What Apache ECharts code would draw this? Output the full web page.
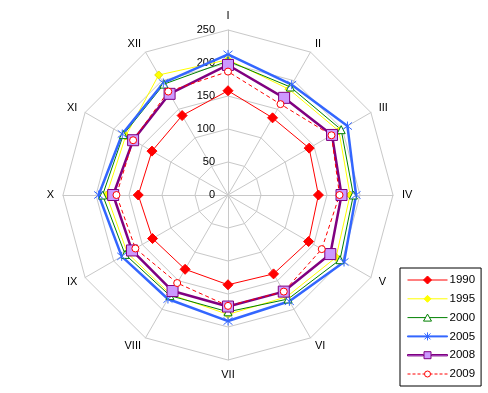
<!DOCTYPE html>
<html>
<head>
<meta charset="utf-8">
<script src="https://cdn.jsdelivr.net/npm/echarts@6/dist/echarts.min.js"></script>
<style>
html,body{margin:0;padding:0;background:#fff;}
#chart{width:488px;height:393px;}
</style>
</head>
<body>
<div id="chart"></div>
<script>
// Axes (months as Roman numerals), listed clockwise from the top
var categories = ['I','II','III','IV','V','VI','VII','VIII','IX','X','XI','XII'];
var tickLabels = ['0','50','100','150','200','250'];
var seriesNames = ['1990','1995','2000','2005','2008','2009'];
var v1990 = [158,135,142,137,141,138,136,130,132,136,133,139];
var v1995 = [205,185,194,185,189,178,181,174,176,184,179,210];
var v2000 = [203,189,198,190,196,182,177,176,180,190,183,194];
var v2005 = [213,193,209,194,203,186,191,182,186,196,185,196];
var v2008 = [197,170,182,172,179,169,169,168,168,174,166,177];
var v2009 = [187,159,181,169,164,169,168,154,162,169,166,181];

var FONT = 'Liberation Sans, Arial, sans-serif';
var axisMax = 250;

// ECharts radar runs counter-clockwise; reorder so the axes run clockwise.
var order = [0];
for (var k = categories.length - 1; k >= 1; k--) order.push(k);
function reorder(arr) { return order.map(function (i) { return arr[i]; }); }

var indicators = reorder(categories).map(function (c, i) {
  var o = { name: c, min: 0, max: axisMax };
  if (i === 0) {
    o.axisLabel = {
      show: true,
      color: '#000',
      fontSize: 11,
      fontFamily: FONT,
      margin: 4,
      align: 'right',
      padding: [0, 9, 0, 0],
      formatter: function (v) { return tickLabels[Math.round(v / 50)]; }
    };
  }
  return o;
});

var starPath = 'path://M0 0L8 8M0 8L8 0M4 -1L4 9';

var styles = [
  { color: '#ff0000', lineWidth: 1, type: 'solid', symbol: 'diamond', size: 10, fill: '#ff0000', border: '#ff0000', bw: 1 },
  { color: '#ffff00', lineWidth: 1, type: 'solid', symbol: 'diamond', size: 8, fill: '#ffff00', border: '#e0e000', bw: 1 },
  { color: '#008000', lineWidth: 1, type: 'solid', symbol: 'triangle', size: 8, fill: '#ffffff', border: '#008000', bw: 1 },
  { color: '#3366ff', lineWidth: 2.5, type: 'solid', symbol: starPath, size: 9, fill: '#3366ff', border: '#3366ff', bw: 1 },
  { color: '#800080', lineWidth: 2.5, type: 'solid', symbol: 'rect', size: 11, fill: '#cc99ff', border: '#800080', bw: 1 },
  { color: '#ff0000', lineWidth: 1, type: [4, 3], symbol: 'circle', size: 7, fill: '#ffffff', border: '#ff0000', bw: 1 }
];
var values = [v1990, v1995, v2000, v2005, v2008, v2009];

var series = seriesNames.map(function (n, i) {
  var s = styles[i];
  return {
    type: 'radar',
    name: n,
    silent: true,
    data: [{
      name: n,
      value: reorder(values[i]),
      symbol: s.symbol,
      symbolSize: s.size,
      lineStyle: { color: s.color, width: s.lineWidth, type: s.type },
      itemStyle: { color: s.fill, borderColor: s.border, borderWidth: s.bw, opacity: 1 },
      areaStyle: null
    }]
  };
});

// legend icons: line + marker, bbox 40 x 8 (y 1..9)
var legendIcons = [
  'path://M0 5L40 5M20 1L24 5L20 9L16 5Z',
  'path://M0 5L40 5M20 1.5L23.5 5L20 8.5L16.5 5ZM16 1L16 1M24 9L24 9',
  'path://M0 5L18 5M22 5L40 5M20 1.5L24 8.5L16 8.5Z',
  'path://M0 4.5L40 4.5L40 5.5L0 5.5ZM17 2L23 8M17 8L23 2M20 1L20 9',
  'path://M0 4.3L16 4.3L16 5.7L0 5.7ZM24 4.3L40 4.3L40 5.7L24 5.7ZM16.5 1.5L23.5 1.5L23.5 8.5L16.5 8.5Z',
  'path://M0 5L3 5M5 5L8 5M10 5L13 5M15 5L16.5 5M23.5 5L25 5M27 5L30 5M32 5L35 5M37 5L40 5M23 5A3 3 0 1 1 17 5A3 3 0 1 1 23 5ZM20 1L20 1M20 9L20 9'
];
var legendStyles = [
  { color: '#ff0000', borderColor: '#ff0000', borderWidth: 1 },
  { color: '#ffff00', borderColor: '#ffff00', borderWidth: 1 },
  { color: '#ffffff', borderColor: '#008000', borderWidth: 1 },
  { color: '#3366ff', borderColor: '#3366ff', borderWidth: 1 },
  { color: '#cc99ff', borderColor: '#800080', borderWidth: 1 },
  { color: '#ffffff', borderColor: '#ff0000', borderWidth: 1 }
];

var chart = echarts.init(document.getElementById('chart'), null, { renderer: 'canvas' });
chart.setOption({
  animation: false,
  backgroundColor: '#ffffff',
  textStyle: { fontFamily: FONT },
  legend: {
    orient: 'vertical',
    left: 400,
    top: 268,
    width: 84,
    padding: [5, 6, 5, 7],
    itemGap: 4.8,
    itemWidth: 40,
    itemHeight: 8,
    backgroundColor: '#ffffff',
    borderColor: '#000000',
    borderWidth: 1,
    borderRadius: 0,
    selectedMode: false,
    textStyle: { color: '#000', fontSize: 11.5, fontFamily: FONT, lineHeight: 14, padding: [0, 0, 0, -3] },
    data: seriesNames.map(function (n, i) {
      return { name: n, icon: legendIcons[i], itemStyle: legendStyles[i] };
    })
  },
  radar: {
    center: [228, 195],
    radius: 165,
    startAngle: 90,
    shape: 'polygon',
    splitNumber: 5,
    nameGap: 9,
    axisName: { color: '#000', fontSize: 11, fontFamily: FONT },
    axisLine: { show: true, lineStyle: { color: '#c8c8c8', width: 1 } },
    splitLine: { show: true, lineStyle: { color: '#c8c8c8', width: 1 } },
    splitArea: { show: false },
    axisTick: { show: false },
    axisLabel: { show: false },
    indicator: indicators
  },
  series: series
});
</script>
</body>
</html>
